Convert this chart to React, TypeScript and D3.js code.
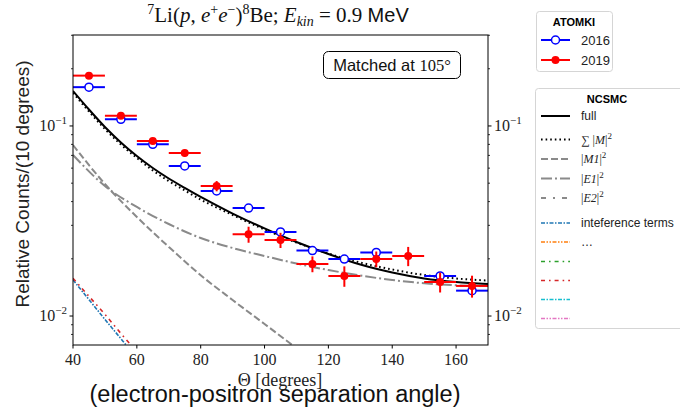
import React, { useEffect, useRef } from "react";
import * as d3 from "d3";

// ATOMKI data, bins of 10 degrees
const angles = [45, 55, 65, 75, 85, 95, 105, 115, 125, 135, 145, 155, 165];
const counts2016 = [0.16, 0.1084, 0.0801, 0.0616, 0.0455, 0.037, 0.0277, 0.0221, 0.01995, 0.0216, null, 0.01625, 0.0136];
const counts2019 = [0.184, 0.1133, 0.0834, 0.0721, 0.0483, 0.0269, 0.0251, 0.0188, 0.01625, 0.01995, 0.0207, 0.0151, 0.0144];
const errors2019 = [0.005, 0.0035, 0.0025, 0.003, 0.003, 0.0026, 0.0023, 0.0018, 0.002, 0.0019, 0.0024, 0.0018, 0.0019];
const binHalfWidth = 5;

// NCSMC curves
const curveAngles = [40, 45, 50, 55, 60, 65, 70, 75, 80, 90, 100, 110, 120, 130, 140, 150, 160, 170];
const fullCurve = [0.1528, 0.1221, 0.0988, 0.0819, 0.0695, 0.0601, 0.0529, 0.0472, 0.0423, 0.0346, 0.0289, 0.02451, 0.0212, 0.01866, 0.01694, 0.01576, 0.0151, 0.01474];
const sumCurve = [0.1492, 0.1192, 0.0964, 0.0799, 0.0679, 0.0583, 0.0513, 0.0458, 0.041, 0.034, 0.02853, 0.02436, 0.02133, 0.01912, 0.01757, 0.01644, 0.01576, 0.01537];
const m1Angles = [40, 50, 60, 70, 80, 90, 100, 110, 120];
const m1Curve = [0.0794, 0.0495, 0.0332, 0.0231, 0.0164, 0.01214, 0.00908, 0.00679, 0.0052];
const e1Angles = [40, 50, 60, 70, 80, 90, 100, 110, 120, 130, 140, 150, 160, 170];
const e1Curve = [0.0704, 0.0483, 0.03748, 0.03049, 0.02574, 0.0228, 0.02069, 0.01889, 0.01746, 0.01634, 0.01547, 0.01487, 0.01451, 0.01438];
const interfAngles = [40, 45, 50, 55, 60];
const interfBlue = [0.0155, 0.0122, 0.0096, 0.0076, 0.006];
const interfRed = [0.0158, 0.0127, 0.0102, 0.0081, 0.0065];

const xTicks = [40, 60, 80, 100, 120, 140, 160];
const yMajorTicks = [0.01, 0.1];
const yMinorTicks = [0.008, 0.009, 0.02, 0.03, 0.04, 0.05, 0.06, 0.07, 0.08, 0.09, 0.2, 0.3];
const yTickExponents = ["−2", "−1"];

const ncsmcLabels = ["full", "sum", "M1", "E1", "E2", "inteference terms", "…", "", "", "", ""];

const GRAY = "#8a8a8a";
const SERIF = "'Liberation Serif', 'DejaVu Serif', serif";
const SANS = "'Liberation Sans', Arial, sans-serif";

const ncsmcStyles = [
    { stroke: "#000", width: 2, dash: null },
    { stroke: "#000", width: 2, dash: "1.6 3" },
    { stroke: GRAY, width: 2, dash: "7 3" },
    { stroke: GRAY, width: 2, dash: "11 3 2 3" },
    { stroke: GRAY, width: 2, dash: "5 7 2 7" },
    { stroke: "#1f77b4", width: 1.6, dash: "4 1.5 1.5 1.5" },
    { stroke: "#ff7f0e", width: 1.6, dash: "4 1.5 1.5 1.5 1.5 1.5" },
    { stroke: "#2ca02c", width: 1.6, dash: "4 4 1.6 4" },
    { stroke: "#d62728", width: 1.6, dash: "4 4 1.6 4" },
    { stroke: "#17becf", width: 1.6, dash: "4 1.5 1.5 1.5" },
    { stroke: "#e377c2", width: 1.6, dash: "4 1.5 1.5 1.5 1.5 1.5" }
];

// title pieces: text, baseline shift (px, up is negative), size, italic, font
const titleParts = [
    ["7", -8, 14, false, SERIF],
    ["Li(", 0, 21, false, SERIF],
    ["p", 0, 21, true, SERIF],
    [", ", 0, 21, false, SERIF],
    ["e", 0, 21, true, SERIF],
    ["+", -8, 14, false, SERIF],
    ["e", 0, 21, true, SERIF],
    ["−", -8, 14, false, SERIF],
    [")", 0, 21, false, SERIF],
    ["8", -8, 14, false, SERIF],
    ["Be; ", 0, 21, false, SERIF],
    ["E", 0, 21, true, SERIF],
    ["kin", 4, 14, true, SERIF],
    [" = 0.9 ", 0, 21, false, SERIF],
    ["MeV", 0, 20, false, SANS]
];

function App() {
    const chart = useRef(null);

    useEffect(() => {
        const width = 680;
        const height = 407;
        const margin = { top: 35, right: 192, bottom: 62, left: 73 };
        const svg = d3.select(chart.current)
            .attr("width", width)
            .attr("height", height);

        const x = d3.scaleLinear().domain([40, 170]).range([margin.left, width - margin.right]);
        const y = d3.scaleLog().domain([0.00704, 0.301]).range([height - margin.bottom, margin.top]);
        const [x0, x1] = x.range();
        const [yB, yT] = y.range();

        svg.append("defs").append("clipPath")
            .attr("id", "plot-clip")
            .append("rect")
            .attr("x", x0).attr("y", yT)
            .attr("width", x1 - x0).attr("height", yB - yT);

        const plot = svg.append("g").attr("clip-path", "url(#plot-clip)");
        const line = d3.line().x(d => x(d[0])).y(d => y(d[1])).curve(d3.curveMonotoneX);
        const drawCurve = (xs, ys, style) => {
            plot.append("path")
                .attr("d", line(xs.map((a, i) => [a, ys[i]])))
                .attr("fill", "none")
                .attr("stroke", style.stroke)
                .attr("stroke-width", style.width)
                .attr("stroke-dasharray", style.dash);
        };

        drawCurve(interfAngles, interfBlue, ncsmcStyles[5]);
        drawCurve(interfAngles, interfRed, ncsmcStyles[8]);
        drawCurve(m1Angles, m1Curve, ncsmcStyles[2]);
        drawCurve(e1Angles, e1Curve, ncsmcStyles[3]);
        drawCurve(curveAngles, sumCurve, ncsmcStyles[1]);
        drawCurve(curveAngles, fullCurve, ncsmcStyles[0]);

        // data points
        const points2016 = angles.map((a, i) => ({ a, v: counts2016[i] })).filter(d => d.v != null);
        const points2019 = angles.map((a, i) => ({ a, v: counts2019[i], e: errors2019[i] }));

        const g16 = plot.append("g");
        g16.selectAll(".xerr").data(points2016).enter().append("line")
            .attr("x1", d => x(d.a - binHalfWidth)).attr("x2", d => x(d.a + binHalfWidth))
            .attr("y1", d => y(d.v)).attr("y2", d => y(d.v))
            .attr("stroke", "#0000ff").attr("stroke-width", 2);
        g16.selectAll("circle").data(points2016).enter().append("circle")
            .attr("cx", d => x(d.a)).attr("cy", d => y(d.v)).attr("r", 4)
            .attr("fill", "#fff").attr("stroke", "#0000ff").attr("stroke-width", 1.5);

        const g19 = plot.append("g");
        g19.selectAll(".xerr").data(points2019).enter().append("line")
            .attr("x1", d => x(d.a - binHalfWidth)).attr("x2", d => x(d.a + binHalfWidth))
            .attr("y1", d => y(d.v)).attr("y2", d => y(d.v))
            .attr("stroke", "#ff0000").attr("stroke-width", 2);
        g19.selectAll(".yerr").data(points2019).enter().append("line")
            .attr("x1", d => x(d.a)).attr("x2", d => x(d.a))
            .attr("y1", d => y(d.v - d.e)).attr("y2", d => y(d.v + d.e))
            .attr("stroke", "#ff0000").attr("stroke-width", 2);
        g19.selectAll("circle").data(points2019).enter().append("circle")
            .attr("cx", d => x(d.a)).attr("cy", d => y(d.v)).attr("r", 4)
            .attr("fill", "#ff0000");

        // frame
        svg.append("rect")
            .attr("x", x0).attr("y", yT)
            .attr("width", x1 - x0).attr("height", yB - yT)
            .attr("fill", "none").attr("stroke", "#000").attr("stroke-width", 1);

        // x ticks
        const xt = svg.append("g");
        xTicks.forEach(t => {
            xt.append("line").attr("x1", x(t)).attr("x2", x(t)).attr("y1", yB).attr("y2", yB + 3.5).attr("stroke", "#000");
            xt.append("text").attr("x", x(t)).attr("y", yB + 20)
                .attr("text-anchor", "middle").attr("font-family", SERIF).attr("font-size", 16)
                .attr("fill", "#222").text(t);
        });

        // y ticks both sides
        const yt = svg.append("g");
        yMajorTicks.forEach((t, i) => {
            [[x0, -3.5], [x1, 3.5]].forEach(([xx, len]) => {
                yt.append("line").attr("x1", xx).attr("x2", xx + len).attr("y1", y(t)).attr("y2", y(t)).attr("stroke", "#000");
            });
            const left = yt.append("text").attr("x", x0 - 6).attr("y", y(t) + 5)
                .attr("text-anchor", "end").attr("font-family", SERIF).attr("font-size", 16).attr("fill", "#222");
            left.append("tspan").text("10");
            left.append("tspan").attr("dy", -7).attr("font-size", 11).text(yTickExponents[i]);
            const right = yt.append("text").attr("x", x1 + 6).attr("y", y(t) + 5)
                .attr("text-anchor", "start").attr("font-family", SERIF).attr("font-size", 16).attr("fill", "#222");
            right.append("tspan").text("10");
            right.append("tspan").attr("dy", -7).attr("font-size", 11).text(yTickExponents[i]);
        });
        yMinorTicks.forEach(t => {
            [[x0, -2], [x1, 2]].forEach(([xx, len]) => {
                yt.append("line").attr("x1", xx).attr("x2", xx + len).attr("y1", y(t)).attr("y2", y(t)).attr("stroke", "#000").attr("stroke-width", 0.8);
            });
        });

        // title
        const title = svg.append("text").attr("x", 278).attr("y", 22)
            .attr("text-anchor", "middle").attr("fill", "#111");
        let shift = 0;
        titleParts.forEach(([txt, s, size, italic, font]) => {
            title.append("tspan")
                .attr("dy", s - shift)
                .attr("font-size", size)
                .attr("font-style", italic ? "italic" : "normal")
                .attr("font-family", font)
                .text(txt);
            shift = s;
        });

        // axis labels
        svg.append("text")
            .attr("transform", "translate(29,184) rotate(-90)")
            .attr("text-anchor", "middle").attr("font-family", SANS).attr("font-size", 19).attr("fill", "#222")
            .text("Relative Counts/(10 degrees)");
        svg.append("text").attr("x", 280).attr("y", 386)
            .attr("text-anchor", "middle").attr("font-family", SERIF).attr("font-size", 18).attr("fill", "#222")
            .text("Θ [degrees]");
        svg.append("text").attr("x", 275).attr("y", 402)
            .attr("text-anchor", "middle").attr("font-family", SANS).attr("font-size", 23.5).attr("fill", "#111")
            .text("(electron-positron separation angle)");

        // annotation box
        const ann = svg.append("g");
        ann.append("rect").attr("x", 323.5).attr("y", 51.5).attr("width", 137).attr("height", 27).attr("rx", 5)
            .attr("fill", "#fff").attr("stroke", "#000").attr("stroke-width", 1);
        const annText = ann.append("text").attr("x", 392).attr("y", 70.5).attr("text-anchor", "middle")
            .attr("font-family", SANS).attr("font-size", 16.5).attr("fill", "#111");
        annText.append("tspan").text("Matched at ");
        annText.append("tspan").attr("font-family", SERIF).text("105°");

        // ATOMKI legend
        const lg1 = svg.append("g");
        lg1.append("rect").attr("x", 536.5).attr("y", 11.5).attr("width", 76).attr("height", 60).attr("rx", 3)
            .attr("fill", "#fff").attr("stroke", "#d5d5d5");
        lg1.append("text").attr("x", 574).attr("y", 26).attr("text-anchor", "middle")
            .attr("font-family", SANS).attr("font-weight", "bold").attr("font-size", 11).text("ATOMKI");
        [["2016", "#0000ff", false, 40], ["2019", "#ff0000", true, 60]].forEach(([lab, col, filled, ly]) => {
            lg1.append("line").attr("x1", 541).attr("x2", 570).attr("y1", ly).attr("y2", ly).attr("stroke", col).attr("stroke-width", 2);
            lg1.append("circle").attr("cx", 555.5).attr("cy", ly).attr("r", 4)
                .attr("fill", filled ? col : "#fff").attr("stroke", col).attr("stroke-width", filled ? 0 : 1.5);
            lg1.append("text").attr("x", 581).attr("y", ly + 4.5).attr("font-family", SANS).attr("font-size", 13).attr("fill", "#222").text(lab);
        });

        // NCSMC legend
        const lg2 = svg.append("g");
        lg2.append("rect").attr("x", 535.5).attr("y", 88.5).attr("width", 150).attr("height", 240).attr("rx", 3)
            .attr("fill", "#fff").attr("stroke", "#d5d5d5");
        lg2.append("text").attr("x", 607).attr("y", 103).attr("text-anchor", "middle")
            .attr("font-family", SANS).attr("font-weight", "bold").attr("font-size", 11).text("NCSMC");
        const rowY = [116, 139.5, 159, 178.5, 198, 223, 242, 261.5, 280.5, 299.5, 318.5];
        ncsmcStyles.forEach((st, i) => {
            const ly = rowY[i];
            lg2.append("line").attr("x1", 541).attr("x2", 570).attr("y1", ly).attr("y2", ly)
                .attr("stroke", st.stroke).attr("stroke-width", st.width).attr("stroke-dasharray", st.dash);
            const lab = ncsmcLabels[i];
            if (!lab) return;
            const tx = lg2.append("text").attr("x", 581).attr("y", ly + 4).attr("font-size", 12).attr("fill", "#222");
            if (lab === "sum") {
                tx.attr("font-family", SERIF);
                tx.append("tspan").text("∑ |");
                tx.append("tspan").attr("font-style", "italic").text("M");
                tx.append("tspan").text("|");
                tx.append("tspan").attr("dy", -5).attr("font-size", 9).text("2");
            } else if (lab === "M1" || lab === "E1" || lab === "E2") {
                tx.attr("font-family", SERIF);
                tx.append("tspan").text("|");
                tx.append("tspan").attr("font-style", "italic").text(lab);
                tx.append("tspan").text("|");
                tx.append("tspan").attr("dy", -5).attr("font-size", 9).text("2");
            } else {
                tx.attr("font-family", SANS).text(lab);
            }
        });

        return () => {
            svg.selectAll("*").remove();
        };
    }, []);

    return (
        <svg ref={chart} style={{ position: "absolute", left: 0, top: 0, background: "#fff" }}></svg>
    );
}

export default App;
